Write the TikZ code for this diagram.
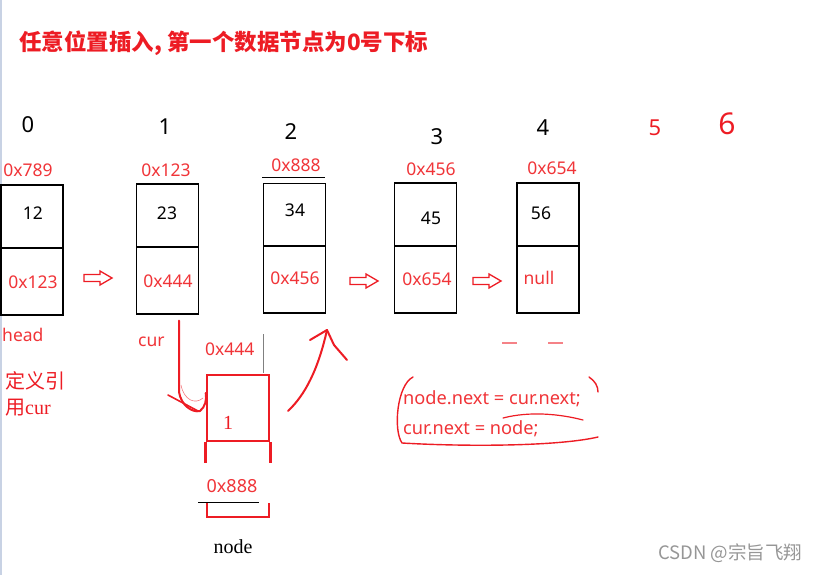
\documentclass[tikz,border=0pt]{standalone}
\usepackage{fontspec}
\setmainfont{Liberation Serif}
\newfontfamily\uifont{Noto Sans}
\newfontfamily\cjk{Noto Sans CJK SC}
\definecolor{pred}{RGB}{237,28,36}
\definecolor{tred}{RGB}{240,52,56}
\definecolor{wm}{RGB}{150,150,150}
\definecolor{edge}{RGB}{200,210,228}
\tikzset{
  cell/.style={draw=black,line width=1.4pt,inner sep=0pt,minimum width=62pt},
  celltop/.style={cell,minimum height=63pt},
  cellbot/.style={cell,minimum height=67pt},
  addr/.style={text=tred,font=\uifont\fontsize{17.5}{20}\selectfont,inner sep=0pt},
  data/.style={text=black,font=\uifont\fontsize{17.5}{20}\selectfont,inner sep=0pt},
  hand/.style={font=\uifont\fontsize{22}{24}\selectfont,inner sep=0pt},
  code/.style={text=tred,font=\uifont\fontsize{18.2}{20}\selectfont,inner sep=0pt,anchor=west},
  stroke/.style={draw=pred,line width=2pt,line cap=round,line join=round},
  hollowarr/.pic={\draw[pred,line width=1.3pt,line join=miter]
     (0,-3.5) -- (16,-3.5) -- (16,-7) -- (28,0) -- (16,7) -- (16,3.5) -- (0,3.5) -- cycle;}
}
\begin{document}
\begin{tikzpicture}[x=1pt,y=-1pt]
\useasboundingbox (0,0) rectangle (824,575);
\draw[edge,line width=1.5pt] (1,0) -- (1,575);

% title
\node[anchor=west,inner sep=0pt,text=pred,font=\cjk\bfseries\fontsize{22.5}{26}\selectfont] (title) at (19,43) {任意位置插入, 第一个数据节点为0号下标};

% index digits
\node[hand] (i0) at (28,125) {0};
\node[hand] (i1) at (165,127) {1};
\node[hand] (i2) at (291,132) {2};
\node[hand] (i3) at (437,137) {3};
\node[hand] (i4) at (543,128) {4};
\node[hand,text=pred] (i5) at (655,128) {5};
\node[hand,text=pred,font=\uifont\fontsize{30}{32}\selectfont] (i6) at (727,124) {6};

% boxes
\node[celltop] (t0) at (32,216.5) {};
\node[cellbot] (b0) at (32,281.5) {};
\node[celltop] (t1) at (167.5,215.5) {};
\node[cellbot] (b1) at (167.5,280.5) {};
\node[celltop] (t2) at (294.5,215) {};
\node[cellbot] (b2) at (294.5,279.5) {};
\node[celltop] (t3) at (425.5,214.5) {};
\node[cellbot] (b3) at (425.5,279.5) {};
\node[celltop] (t4) at (548,214.5) {};
\node[cellbot] (b4) at (548,279.5) {};

% addresses above
\node[addr] (a0) at (28,170) {0x789};
\node[addr] (a1) at (166,170) {0x123};
\node[addr] (a2) at (296,165) {0x888};
\node[addr] (a3) at (431,169) {0x456};
\node[addr] (a4) at (552,168) {0x654};
\draw[black,line width=0.8pt] (262,177) -- (325,177);

% data
\node[data] (d0) at (33,213) {12};
\node[data] (d1) at (167,213) {23};
\node[data] (d2) at (295,210) {34};
\node[data] (d3) at (431,218) {45};
\node[data] (d4) at (541,213) {56};

% pointers
\node[addr] (p0) at (33,282) {0x123};
\node[addr] (p1) at (168,281) {0x444};
\node[addr] (p2) at (295,278) {0x456};
\node[addr] (p3) at (427,279) {0x654};
\node[addr] (p4) at (539,278) {null};

% hollow arrows
\pic at (84,278) {hollowarr};
\pic at (350,281) {hollowarr};
\pic at (473,281) {hollowarr};

% labels
\node[addr,anchor=west] (head) at (2,335) {head};
\node[addr,anchor=west] (cur) at (138,342) {cur};
\node[addr,anchor=west] (na) at (205,349) {0x444};
\draw[gray,line width=0.6pt] (263,334) -- (263,373);
\node[anchor=north west,inner sep=0pt,text=pred,align=left,font=\cjk\fontsize{20}{26}\selectfont] (def) at (5,371) {定义引\\用{\rmfamily cur}};

% new node
\node[draw=pred,line width=2.6pt,inner sep=0pt,minimum width=62pt,minimum height=66pt] (nn) at (238,408) {};
\draw[pred,line width=2.6pt] (nn.south west) -- ++(0,21) coordinate (nl);
\draw[pred,line width=2.6pt] (nn.south east) -- ++(0,21) coordinate (nr);
\node[inner sep=0pt,text=pred,font=\rmfamily\fontsize{20}{22}\selectfont] (one) at (228,423) {1};
\node[addr,font=\uifont\fontsize{18}{20}\selectfont] (nb) at (232,486) {0x888};
\draw[black,line width=0.8pt] (198,502) -- (259,502);
\coordinate (bl) at (207,503);
\coordinate (br) at (269,503);
\draw[pred,line width=2.6pt] (bl) -- (207,517) -- (269,517) -- (br);
\node[inner sep=0pt,font=\rmfamily\fontsize{20}{22}\selectfont] (nodelbl) at (233,547) {node};

% cur arrow (hand drawn)
\draw[stroke] (b1.south -| 179,0) ++(0,6) -- (179,392) .. controls (181,405) and (192,413) .. (200,411) .. controls (205,407) and (207,400) .. (nn.west |- 0,393);
\draw[stroke,line width=1.6pt] (168,395) -- (198,411);
\draw[pred!60,line width=0.6pt] (181,385) .. controls (184,400) and (195,405) .. (203,398);

% arrow back up
\coordinate (up) at (327,330);
\draw[stroke] (288,411) .. controls (305,395) and (318,370) .. (up);
\draw[stroke] (310,340) -- (up) -- (334,345) -- (347,360);

% code
\node[code] (c1) at (403,399) {node.next = cur.next;};
\node[code] (c2) at (403,429) {cur.next = node;};
\draw[stroke,line width=1.4pt] (413,377) .. controls (397,385) and (393,430) .. (402,443) .. controls (470,447) and (560,446) .. (598,437);
\draw[stroke,line width=1.4pt] (589,377) .. controls (595,381) and (598,386) .. (598,392);
\draw[stroke,line width=1.2pt] (503,418) .. controls (530,411) and (560,414) .. (583,420);
\draw[pred!55,line width=1.2pt] (502,343) -- (517,343);
\draw[pred!55,line width=1.2pt] (548,343) -- (563,343);

% watermark
\node[anchor=west,inner sep=0pt,text=wm,font=\cjk\fontsize{18.5}{20}\selectfont] (wmk) at (658,553) {CSDN @宗旨飞翔};
\end{tikzpicture}
\end{document}
